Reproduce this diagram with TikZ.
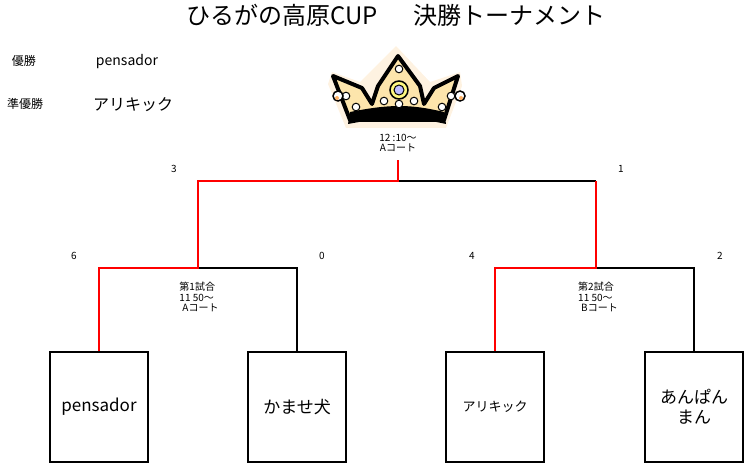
\documentclass[tikz,border=0pt]{standalone}
\usepackage{fontspec}
\setmainfont{Noto Sans CJK JP}
\begin{document}
\begin{tikzpicture}[x=1pt,y=-1pt,
 team/.style={draw,line width=1.2pt,minimum width=98pt,minimum height=110pt,inner sep=0pt,align=center,font=\fontsize{17}{20}\selectfont},
 win/.style={red,line width=1.2pt},
 lose/.style={black,line width=1.8pt},
 sm/.style={font=\fontsize{10}{10.5}\selectfont,align=left},
 lab/.style={font=\fontsize{14}{16}\selectfont}]
\useasboundingbox (0,0) rectangle (746,465);
\node (title) at (396,15) {\fontsize{24}{27}\selectfont ひるがの高原CUP\hspace{36pt}決勝トーナメント};
\node[font=\fontsize{12}{14}\selectfont] (l1) at (24,61) {優勝};
\node[lab] (w1) at (127,62) {pensador};
\node[font=\fontsize{12}{14}\selectfont] (l2) at (25,104) {準優勝};
\node[font=\fontsize{16}{19}\selectfont] (w2) at (133,105) {アリキック};
% crown
\begin{scope}
\fill[yellow!10!orange!10] (328,84) -- (332,72) -- (360,82) -- (396,46) -- (430,82) -- (460,72) -- (462,86) -- (446,128) -- (346,128) -- cycle;
\draw[line width=4pt,fill=yellow!40!orange!30,line join=round] (333,76) -- (362,88) -- (372,104) -- (378,86) -- (398,56) -- (420,86) -- (424,104) -- (434,88) -- (458,76) -- (444,120) -- (350,120) -- cycle;
\fill (350,112) .. controls (390,104) and (410,104) .. (444,112) -- (446,124) .. controls (410,116) and (390,116) .. (348,124) -- cycle;
\draw[line width=1.5pt,fill=yellow!50] (399,90) circle (9);
\draw[line width=1pt,fill=blue!25] (399,90) circle (5);
\foreach \p in {(399,69),(384,101),(414,101),(399,104),(346,96),(451,96),(356,107),(442,107)}{\draw[line width=1pt,fill=white] \p circle (3.8);}
\fill[white,draw=black,line width=1.5pt] (338,96) circle (5) (460,96) circle (5);
\fill[orange!60] (337,98) circle (2) (461,98) circle (2);
\end{scope}
\node[sm,align=center] (t0) at (398,143) {12 :10〜\\Aコート};
% scores
\node[sm] (s3) at (174,169) {3};
\node[sm] (s1) at (621,169) {1};
\node[sm] (s6) at (74,256) {6};
\node[sm] (s0) at (322,256) {0};
\node[sm] (s4) at (472,256) {4};
\node[sm] (s2) at (720,256) {2};
\node[sm] (m1) at (199,297) {第1試合\\11 50〜\\\hspace{3pt}Aコート};
\node[sm] (m2) at (598,297) {第2試合\\11 50〜\\\hspace{3pt}Bコート};
% teams
\node[team] (a) at (99,407) {pensador};
\node[team] (b) at (297,407) {かませ犬};
\node[team,font=\fontsize{13}{15}\selectfont] (c) at (495,407) {アリキック};
\node[team] (d) at (694,407) {あんぱん\\まん};
\coordinate (j1) at (198,268);
\coordinate (j2) at (596,268);
\coordinate (top) at (398,181);
\draw[lose] (b.north) |- (j1);
\draw[lose] (d.north) |- (j2);
\draw[lose] (top) -- (j2 |- top);
\draw[win] (a.north) |- (j1) |- (top) -- (398,160);
\draw[win] (c.north) |- (j2) -- (j2 |- top);
\end{tikzpicture}
\end{document}
